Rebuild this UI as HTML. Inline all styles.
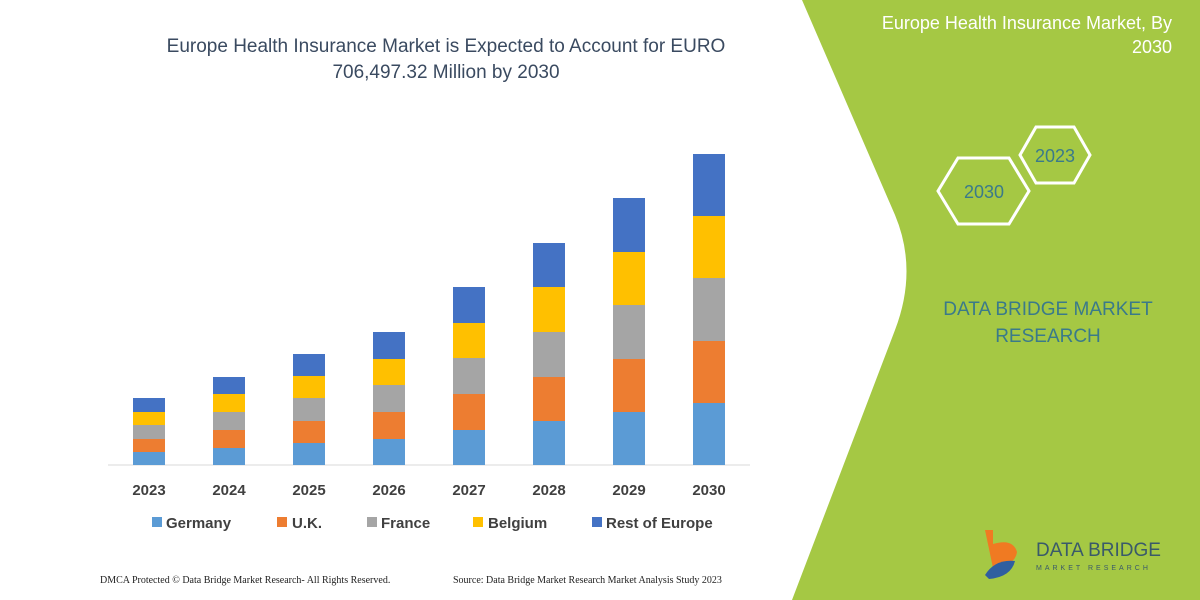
<!DOCTYPE html>
<html><head><meta charset="utf-8"><style>
body{margin:0;width:1200px;height:600px;overflow:hidden;background:#fff;font-family:"Liberation Sans",sans-serif}
</style></head><body>
<svg width="1200" height="600" xmlns="http://www.w3.org/2000/svg" style="position:absolute;left:0;top:0">
<path d="M802,0 L1200,0 L1200,600 L792,600 L895,330 Q918,270 895,215 Z" fill="#a5c844"/>
<text x="1172" y="29" font-size="18" fill="#fff" text-anchor="end">Europe Health Insurance Market, By</text>
<text x="1172" y="53" font-size="18" fill="#fff" text-anchor="end">2030</text>
<polygon points="1020,155 1036,127 1074,127 1090,155 1074,183 1036,183" fill="none" stroke="#fff" stroke-width="3"/>
<polygon points="938,191 958,158 1009,158 1029,191 1009,224 958,224" fill="none" stroke="#fff" stroke-width="3"/>
<text x="1055" y="162" font-size="18" fill="#3a7a8a" text-anchor="middle">2023</text>
<text x="984" y="198" font-size="18" fill="#3a7a8a" text-anchor="middle">2030</text>
<text x="1048" y="315" font-size="19" fill="#3a7a8a" text-anchor="middle">DATA BRIDGE MARKET</text>
<text x="1048" y="342" font-size="19" fill="#3a7a8a" text-anchor="middle">RESEARCH</text>
<path d="M985,530 h8 v14 q20,-6 24,8 q-2,14 -24,16 z" fill="#f07a22"/>
<path d="M985,575 q10,-16 30,-14 q-4,16 -26,18 z" fill="#2f5fa0"/>
<text x="1036" y="556" font-size="19" fill="#3a5a6a">DATA BRIDGE</text>
<text x="1036" y="570" font-size="7" fill="#3a5a6a" letter-spacing="3">MARKET RESEARCH</text>
<text x="446" y="52" font-size="19" fill="#3a4a60" text-anchor="middle">Europe Health Insurance Market is Expected to Account for EURO</text>
<text x="446" y="78" font-size="19" fill="#3a4a60" text-anchor="middle">706,497.32 Million by 2030</text>
<line x1="108" y1="465" x2="750" y2="465" stroke="#d9d9d9" stroke-width="1"/>
<g id="bars"></g>
<g font-size="15" font-weight="bold" fill="#404040" text-anchor="middle">
<text x="149" y="495">2023</text><text x="229" y="495">2024</text><text x="309" y="495">2025</text><text x="389" y="495">2026</text>
<text x="469" y="495">2027</text><text x="549" y="495">2028</text><text x="629" y="495">2029</text><text x="709" y="495">2030</text>
</g>
<g font-size="15" font-weight="bold" fill="#404040">
<rect x="152" y="517" width="10" height="10" fill="#5b9bd5"/><text x="166" y="528">Germany</text>
<rect x="277" y="517" width="10" height="10" fill="#ed7d31"/><text x="292" y="528">U.K.</text>
<rect x="367" y="517" width="10" height="10" fill="#a5a5a5"/><text x="381" y="528">France</text>
<rect x="473" y="517" width="10" height="10" fill="#ffc000"/><text x="488" y="528">Belgium</text>
<rect x="592" y="517" width="10" height="10" fill="#4472c4"/><text x="606" y="528">Rest of Europe</text>
</g>
<text x="100" y="583" font-size="10" fill="#222" font-family="Liberation Serif">DMCA Protected © Data Bridge Market Research-  All Rights Reserved.</text>
<text x="453" y="583" font-size="10" fill="#222" font-family="Liberation Serif">Source: Data Bridge Market Research  Market Analysis Study 2023</text>
</svg>
<script>
var d=[[149,452,439,425,412,398],[229,448,430,412,394,377],[309,443,421,398,376,354],[389,439,412,385,359,332],[469,430,394,358,323,287],[549,421,377,332,287,243],[629,412,359,305,252,198],[709,403,341,278,216,154]];
var c=["#5b9bd5","#ed7d31","#a5a5a5","#ffc000","#4472c4"],s="";
d.forEach(function(b){var p=465;for(var i=0;i<5;i++){s+='<rect x="'+(b[0]-16)+'" y="'+b[i+1]+'" width="32" height="'+(p-b[i+1])+'" fill="'+c[i]+'"/>';p=b[i+1];}});
document.getElementById("bars").innerHTML=s;
</script>
</body></html>
